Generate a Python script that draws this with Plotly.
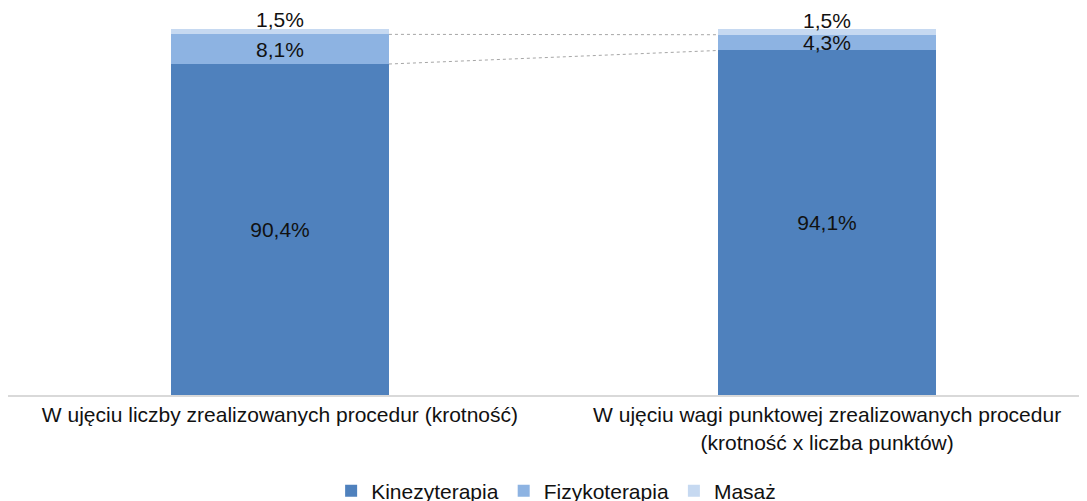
import plotly.graph_objects as go
import numpy as np

categories = ["W ujęciu liczby zrealizowanych procedur (krotność)",
              "W ujęciu wagi punktowej zrealizowanych procedur<br>(krotność x liczba punktów)"]
series_names = ["Kinezyterapia", "Fizykoterapia", "Masaż"]
kinezyterapia = [90.4, 94.1]
fizykoterapia = [8.1, 4.3]
masaz = [1.5, 1.5]
colors = ["#4F81BD", "#8DB3E2", "#C6D9F1"]

FONT = "Liberation Sans, Arial, sans-serif"
x = [0, 1]
bw = 0.3985
fig = go.Figure()
values = [kinezyterapia, fizykoterapia, masaz]
for i, (name, vals) in enumerate(zip(series_names, values)):
    top = (i == 2)
    fig.add_trace(go.Bar(
        x=x, y=vals, name=name, marker=dict(color=colors[i], line=dict(width=0)),
        width=bw,
        texttemplate=None if top else "%{y:.1f}%",
        textposition="none" if top else "inside",
        insidetextanchor="middle",
        constraintext="none",
        textfont=dict(color="#111111", size=21, family=FONT),
        cliponaxis=False,
    ))

cum = np.cumsum(np.array(values), axis=0)

# labels of the top segment, placed just above the stack
for j, xv in enumerate(x):
    fig.add_annotation(x=xv, y=cum[2][j], xref="x", yref="y",
                       text=f"{masaz[j]:.1f}%".replace(".", ","),
                       showarrow=False, yanchor="middle", yshift=9,
                       font=dict(color="#111111", size=21, family=FONT))

# connector lines between stacks
for level in [0, 1]:
    fig.add_shape(type="line", xref="x", yref="y",
                  x0=x[0] + bw / 2, x1=x[1] - bw / 2,
                  y0=cum[level][0], y1=cum[level][1],
                  line=dict(color="#A6A6A6", width=1, dash="dot"))

fig.update_layout(
    barmode="stack",
    width=1087, height=501,
    margin=dict(l=0, r=8, t=0, b=114, autoexpand=False),
    plot_bgcolor="white", paper_bgcolor="white",
    separators=", ",
    font=dict(family=FONT, size=21, color="#111111"),
    bargap=0,
    showlegend=True,
    legend=dict(orientation="h", x=0.508, xanchor="center", y=-0.248, yanchor="middle",
                font=dict(size=21), itemwidth=30, traceorder="normal",
                tracegroupgap=0),
    xaxis=dict(range=[-0.497, 1.475], tickvals=x, ticktext=categories,
               showline=True, linecolor="#D9D9D9", linewidth=2, automargin=False,
               showgrid=False, zeroline=False, ticks="", tickfont=dict(size=21)),
    yaxis=dict(range=[0, 105.7], visible=False, showgrid=False, zeroline=False,
               automargin=False),
)

fig.write_html("out.html")
